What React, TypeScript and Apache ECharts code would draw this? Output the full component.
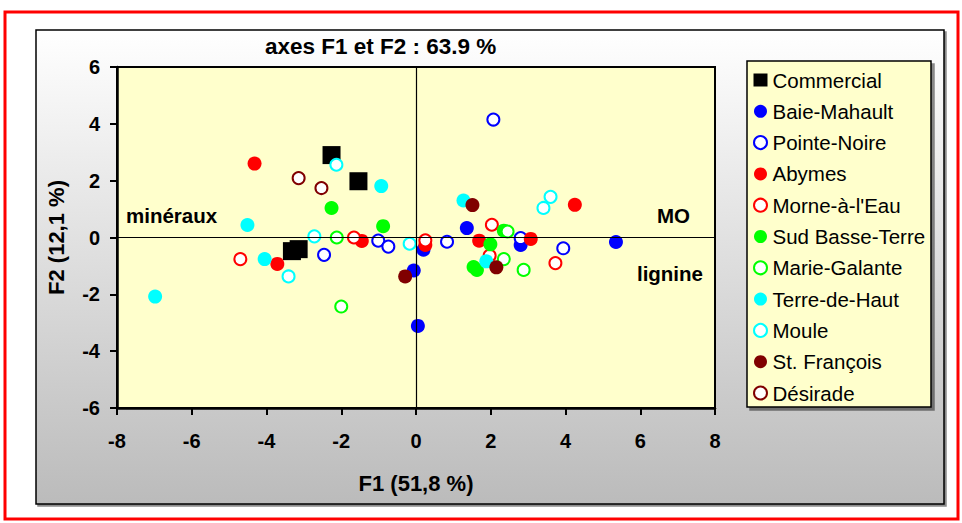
import React, { useEffect, useRef } from "react";
import * as echarts from "echarts";

const seriesNames = [
  "Commercial",
  "Baie-Mahault",
  "Pointe-Noire",
  "Abymes",
  "Morne-à-l'Eau",
  "Sud Basse-Terre",
  "Marie-Galante",
  "Terre-de-Haut",
  "Moule",
  "St. François",
  "Désirade",
];

const commercial = [[-2.26, 2.9], [-1.54, 1.98], [-3.32, -0.48], [-3.14, -0.41]];
const baieMahault = [[1.36, 0.33], [2.8, -0.26], [5.35, -0.16], [0.2, -0.43], [-0.06, -1.16], [0.05, -3.11]];
const pointeNoire = [[2.07, 4.15], [0.83, -0.15], [3.94, -0.38], [2.8, -0.02], [-1.01, -0.11], [-0.74, -0.32], [-2.46, -0.61]];
const abymes = [[-4.32, 2.6], [-1.45, -0.12], [-3.71, -0.93], [4.25, 1.15], [1.69, -0.11], [3.07, -0.05], [0.25, -0.26]];
const morneALEau = [[-1.66, 0.0], [-4.7, -0.76], [0.25, -0.1], [2.03, 0.45], [1.97, -0.64], [3.73, -0.9]];
const sudBasseTerre = [[-2.26, 1.04], [-0.88, 0.4], [1.99, -0.24], [1.54, -1.04], [1.63, -1.14], [2.35, 0.24]];
const marieGalante = [[-2.12, 0.0], [-2.0, -2.43], [2.45, 0.21], [2.35, -0.76], [2.88, -1.14]];
const terreDeHaut = [[-0.93, 1.81], [-4.51, 0.44], [-4.05, -0.76], [-6.98, -2.08], [1.27, 1.3], [1.88, -0.84]];
const moule = [[-2.13, 2.56], [-2.72, 0.04], [-0.17, -0.22], [-3.41, -1.37], [3.6, 1.43], [3.41, 1.04]];
const stFrancois = [[1.51, 1.14], [2.15, -1.05], [-0.29, -1.37]];
const desirade = [[-3.14, 2.09], [-2.53, 1.74]];

const seriesData = [
  commercial, baieMahault, pointeNoire, abymes, morneALEau, sudBasseTerre,
  marieGalante, terreDeHaut, moule, stFrancois, desirade,
];

const seriesColors = [
  "#000000", "#0000FF", "#0000FF", "#FF0000", "#FF0000", "#00FF00",
  "#00FF00", "#00FFFF", "#00FFFF", "#800000", "#800000",
];
const seriesFilled = [true, true, false, true, false, true, false, true, false, true, false];

const titleText = "axes F1 et F2 : 63.9 %";
const xName = "F1 (51,8 %)";
const yName = "F2 (12,1 %)";
const annotations = ["minéraux", "MO", "lignine"];

const FONT = "'Liberation Sans', Arial, Helvetica, sans-serif";

export default function App() {
  const ref = useRef<HTMLDivElement>(null);

  useEffect(() => {
    if (!ref.current) return;
    const chart = echarts.init(ref.current, undefined, { renderer: "svg" });

    const series: any[] = [
      {
        type: "scatter",
        name: "__axes",
        data: [],
        silent: true,
        markLine: {
          silent: true,
          symbol: ["none", "none"],
          label: { show: false },
          lineStyle: { color: "#000", width: 1.2, type: "solid" },
          data: [{ xAxis: 0 }, { yAxis: 0 }],
        },
      },
    ];
    seriesNames.forEach((name, i) => {
      const c = seriesColors[i];
      series.push({
        type: "scatter",
        name,
        data: seriesData[i],
        symbol: i === 0 ? "rect" : "circle",
        symbolSize: i === 0 ? 18 : seriesFilled[i] ? 14 : 12,
        itemStyle: seriesFilled[i]
          ? { color: c, opacity: 1 }
          : { color: "#FFFFFF", borderColor: c, borderWidth: 2, opacity: 1 },
      });
    });

    chart.setOption({
      animation: false,
      backgroundColor: "#FFFFFF",
      title: {
        text: titleText,
        left: 265,
        top: 35,
        padding: 0,
        textStyle: { fontFamily: FONT, fontSize: 22.5, fontWeight: "bold", color: "#000" },
      },
      graphic: [
        {
          type: "rect",
          z: -100,
          silent: true,
          shape: { x: 5, y: 12, width: 953, height: 507 },
          style: { fill: "#FFFFFF", stroke: "#FF0000", lineWidth: 3 },
        },
        {
          type: "rect",
          z: -90,
          silent: true,
          shape: { x: 36, y: 30, width: 908, height: 474 },
          style: {
            fill: new echarts.graphic.LinearGradient(0, 0, 0, 1, [
              { offset: 0, color: "#FFFFFF" },
              { offset: 1, color: "#BBBBBB" },
            ]),
            stroke: "#000",
            lineWidth: 1.5,
            shadowColor: "rgba(0,0,0,0.45)",
            shadowOffsetX: 2,
            shadowOffsetY: 2,
            shadowBlur: 1,
          },
        },
        {
          type: "rect",
          z: -80,
          silent: true,
          shape: { x: 747, y: 61, width: 184, height: 346 },
          style: {
            fill: "#FFFFCC",
            stroke: "#000",
            lineWidth: 1.5,
            shadowColor: "rgba(0,0,0,0.45)",
            shadowOffsetX: 3,
            shadowOffsetY: 3,
            shadowBlur: 1,
          },
        },
        {
          type: "text",
          z: 100,
          x: 126,
          y: 215,
          style: {
            text: annotations[0],
            fontFamily: FONT,
            fontSize: 20.5,
            fontWeight: "bold",
            fill: "#000",
            verticalAlign: "middle",
          },
        },
        {
          type: "text",
          z: 100,
          x: 690,
          y: 215,
          style: {
            text: annotations[1],
            fontFamily: FONT,
            fontSize: 20.5,
            fontWeight: "bold",
            fill: "#000",
            align: "right",
            verticalAlign: "middle",
          },
        },
        {
          type: "text",
          z: 100,
          x: 703,
          y: 273,
          style: {
            text: annotations[2],
            fontFamily: FONT,
            fontSize: 20.5,
            fontWeight: "bold",
            fill: "#000",
            align: "right",
            verticalAlign: "middle",
          },
        },
      ],
      legend: {
        orient: "vertical",
        left: 753,
        top: 69.5,
        padding: 0,
        itemWidth: 14,
        itemHeight: 13,
        itemGap: 10.3,
        selectedMode: false,
        data: seriesNames.map((n, i) => ({ name: n, icon: i === 0 ? "rect" : "circle" })),
        textStyle: { fontFamily: FONT, fontSize: 20.5, color: "#000", lineHeight: 21 },
      },
      grid: {
        left: 117,
        top: 67,
        width: 598,
        height: 341,
        show: true,
        backgroundColor: "#FFFFCC",
        borderColor: "#000",
        borderWidth: 2,
      },
      xAxis: {
        type: "value",
        min: -8,
        max: 8,
        interval: 2,
        name: xName,
        nameLocation: "middle",
        nameGap: 64,
        nameTextStyle: { fontFamily: FONT, fontSize: 22, fontWeight: "bold", color: "#000" },
        axisLine: { onZero: false, lineStyle: { color: "#000", width: 2.5 } },
        axisTick: { show: true, inside: false, length: 7, lineStyle: { color: "#000", width: 2 } },
        axisLabel: { margin: 23, fontFamily: FONT, fontSize: 20, fontWeight: "bold", color: "#000" },
        splitLine: { show: false },
      },
      yAxis: {
        type: "value",
        min: -6,
        max: 6,
        interval: 2,
        name: yName,
        nameLocation: "middle",
        nameRotate: 90,
        nameGap: 50,
        nameTextStyle: { fontFamily: FONT, fontSize: 22, fontWeight: "bold", color: "#000" },
        axisLine: { onZero: false, lineStyle: { color: "#000", width: 2.5 } },
        axisTick: { show: true, inside: false, length: 7, lineStyle: { color: "#000", width: 2 } },
        axisLabel: { margin: 17, fontFamily: FONT, fontSize: 20, fontWeight: "bold", color: "#000" },
        splitLine: { show: false },
      },
      series,
    });

    return () => chart.dispose();
  }, []);

  return (
    <div
      ref={ref}
      style={{ position: "fixed", left: 0, top: 0, width: 962, height: 523 }}
    />
  );
}
